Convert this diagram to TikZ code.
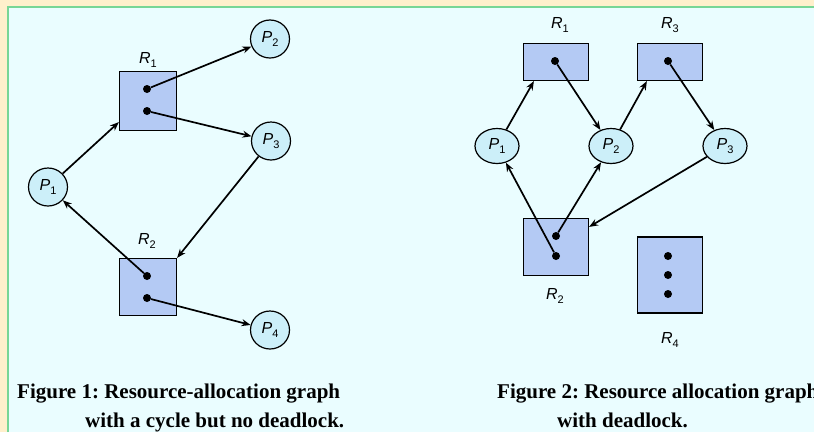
\documentclass[tikz,border=0pt]{standalone}
\usepackage{fontspec}
\setmainfont{Liberation Serif}
\setsansfont{Liberation Sans}
\usetikzlibrary{arrows.meta,shapes.geometric}
\definecolor{framecream}{RGB}{255,240,204}
\definecolor{frameline}{RGB}{120,214,150}
\definecolor{paneback}{RGB}{234,253,255}
\definecolor{resblue}{RGB}{180,202,244}
\definecolor{procblue}{RGB}{204,239,249}
\newcommand{\lblfont}{\sffamily\fontsize{16}{16}\selectfont}
\newcommand{\capfont}{\bfseries\fontsize{21}{21}\selectfont}
\newcommand{\lbl}[2]{{\itshape #1}\raisebox{-0.28em}{\fontsize{11}{11}\selectfont #2}}
\frenchspacing

\begin{document}
\begin{tikzpicture}[x=1pt,y=-1pt,
  res/.style={draw,line width=1.2pt,fill=resblue,inner sep=0pt},
  proc/.style={ellipse,draw,line width=1.2pt,fill=procblue,inner sep=0pt,
               minimum width=39pt,minimum height=38pt,font=\lblfont},
  wideproc/.style={proc,minimum width=44pt,minimum height=35pt},
  tag/.style={font=\lblfont,inner sep=1pt},
  dot/.style={circle,fill=black,inner sep=0pt,minimum size=8pt},
  arrow/.style={-{Stealth[length=9pt,width=7pt]},line width=1.7pt},
  figcap/.style={anchor=base west,font=\capfont,inner sep=0pt}
]
% Frame and panel.
\useasboundingbox (0,0) rectangle (814,432);
\clip (0,0) rectangle (814,432);
\fill[framecream] (0,0) rectangle (814,432);
\fill[paneback] (8,7) rectangle (814,432);
\draw[frameline,line width=2pt] (8,432) -- (8,7) -- (814,7);

% Figure 1: cycle without deadlock.
\node[res,minimum width=57pt,minimum height=59pt] (f1r1) at (148,101) {};
\node[tag] (f1r1lbl) at (148,60) {\lbl{R}{1}};
\node[dot] (f1r1a) at (147,89) {};
\node[dot] (f1r1b) at (147,111) {};
\node[res,minimum width=57pt,minimum height=57pt] (f1r2) at (148,287) {};
\node[tag] (f1r2lbl) at (147,241) {\lbl{R}{2}};
\node[dot] (f1r2a) at (147,276) {};
\node[dot] (f1r2b) at (147,298) {};
\node[proc] (f1p1) at (48,187) {\lbl{P}{1}};
\node[proc] (f1p2) at (270,39) {\lbl{P}{2}};
\node[proc] (f1p3) at (271,141) {\lbl{P}{3}};
\node[proc] (f1p4) at (270,330) {\lbl{P}{4}};

\draw[arrow] (f1p1) -- ([yshift=9pt]f1r1.south west);
\draw[arrow] (f1r1a) -- (f1p2);
\draw[arrow] (f1r1b) -- (f1p3);
\draw[arrow] (f1p3) -- (f1r2.north east);
\draw[arrow] (f1r2a) -- (f1p1);
\draw[arrow] (f1r2b) -- (f1p4);

% Figure 2: graph with deadlock.
\node[res,minimum width=65pt,minimum height=37pt] (f2r1) at (556,62) {};
\node[tag] (f2r1lbl) at (560,25) {\lbl{R}{1}};
\node[dot] (f2r1a) at (555,61) {};
\node[res,minimum width=65pt,minimum height=37pt] (f2r3) at (670,62) {};
\node[tag] (f2r3lbl) at (670,25) {\lbl{R}{3}};
\node[dot] (f2r3a) at (668,61) {};
\node[res,minimum width=65pt,minimum height=57pt] (f2r2) at (556,247) {};
\node[tag] (f2r2lbl) at (555,296) {\lbl{R}{2}};
\node[dot] (f2r2a) at (556,236) {};
\node[dot] (f2r2b) at (556,256) {};
\node[res,minimum width=65pt,minimum height=76pt] (f2r4) at (670,275) {};
\node[tag] (f2r4lbl) at (670,340) {\lbl{R}{4}};
\node[dot] (f2r4a) at (668,256) {};
\node[dot] (f2r4b) at (668,275) {};
\node[dot] (f2r4c) at (668,294) {};
\node[wideproc] (f2p1) at (497,146) {\lbl{P}{1}};
\node[wideproc] (f2p2) at (611,146) {\lbl{P}{2}};
\node[wideproc] (f2p3) at (725,146) {\lbl{P}{3}};

\draw[arrow] (f2p1) -- ([xshift=11pt]f2r1.south west);
\draw[arrow] (f2r1a) -- (f2p2);
\draw[arrow] (f2p2) -- ([xshift=10pt]f2r3.south west);
\draw[arrow] (f2r3a) -- (f2p3);
\draw[arrow] (f2p3) -- ([yshift=-9pt]f2r2.north east);
\draw[arrow] (f2r2a) -- (f2p2);
\draw[arrow] (f2r2b) -- (f2p1);

% Captions.
\node[figcap] (cap1a) at (17,398) {Figure 1: Resource-allocation graph};
\node[figcap] (cap1b) at (85,427) {with a cycle but no deadlock.};
\node[figcap] (cap2a) at (497,398) {Figure 2: Resource allocation graph};
\node[figcap] (cap2b) at (557,427) {with deadlock.};
\end{tikzpicture}
\end{document}
